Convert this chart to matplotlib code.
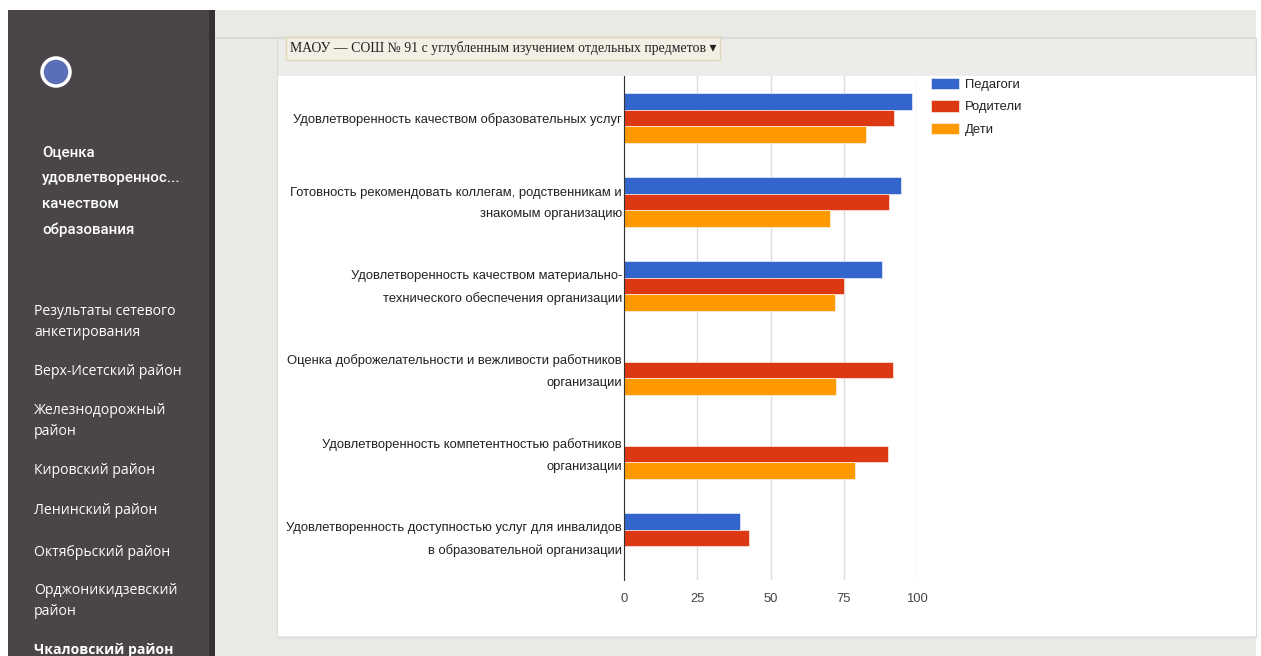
import numpy as np
import matplotlib.pyplot as plt
import matplotlib.transforms as mtransforms
from matplotlib.patches import Rectangle, Ellipse

# data
categories = [
    "Удовлетворенность качеством образовательных услуг",
    "Готовность рекомендовать коллегам, родственникам и\nзнакомым организацию",
    "Удовлетворенность качеством материально-\nтехнического обеспечения организации",
    "Оценка доброжелательности и вежливости работников\nорганизации",
    "Удовлетворенность компетентностью работников\nорганизации",
    "Удовлетворенность доступностью услуг для инвалидов\nв образовательной организации",
]
series_names = ["Педагоги", "Родители", "Дети"]
pedagogi = [98.4, 94.7, 87.9, np.nan, np.nan, 39.6]
roditeli = [92.0, 90.3, 75.2, 91.7, 90.2, 42.5]
deti = [82.5, 70.2, 72.0, 72.5, 78.8, np.nan]
xticks = [0, 25, 50, 75, 100]

title_lines = ["Оценка", "удовлетвореннос...", "качеством", "образования"]
title_y = [152, 178, 204, 230]
menu_items = [
    "Результаты сетевого\nанкетирования",
    "Верх-Исетский район",
    "Железнодорожный\nрайон",
    "Кировский район",
    "Ленинский район",
    "Октябрьский район",
    "Орджоникидзевский\nрайон",
    "Чкаловский район",
]
menu_y = [322, 372, 421, 471, 511, 552, 601, 650]
school = "МАОУ — СОШ № 91 с углубленным изучением отдельных предметов ▾"

W, H = 1261, 656
fig = plt.figure(figsize=(W / 100, H / 100), dpi=100)
fig.patch.set_facecolor("white")


def fx(x):
    return x / W


def fy(y):
    return 1 - y / H


def box(x0, y0, x1, y1, **kw):
    fig.patches.append(Rectangle((fx(x0), fy(y1)), fx(x1 - x0), (y1 - y0) / H,
                                 transform=fig.transFigure, **kw))


# page background
box(215, 10, 1256, 656, facecolor="#e9e9e5", edgecolor="none")
box(215, 37, 1256, 39, facecolor="#d9d9d5", edgecolor="none")
box(277, 38, 1256, 637, facecolor="#ecece9", edgecolor="#dcdcd8", linewidth=1)
box(278, 76, 1256, 636, facecolor="white", edgecolor="none")

# sidebar
box(8, 10, 209, 656, facecolor="#4a4548", edgecolor="none")
box(209, 10, 215, 656, facecolor="#353033", edgecolor="none")
fig.patches.append(Ellipse((fx(56), fy(72)), 28 / W, 28 / H, transform=fig.transFigure,
                           facecolor="#5a6fb8", edgecolor="white", linewidth=2.5))
for line, y in zip(title_lines, title_y):
    fig.text(fx(42), fy(y), line, family="Roboto", fontweight="medium",
             fontsize=10.9, color="white", va="center", ha="left")
for item, y in zip(menu_items, menu_y):
    bold = item.startswith("Чкаловский")
    fig.text(fx(34), fy(y), item, family="Open Sans", fontsize=10.1,
             color="white", va="center", ha="left", linespacing=1.5,
             fontweight="bold" if bold else "normal")

# dropdown
box(286, 37, 720, 60, facecolor="#f2efe4", edgecolor="#e0d6b8", linewidth=1)
fig.text(fx(290), fy(48), school, family=["Liberation Serif", "DejaVu Sans"],
         fontsize=9.9, color="#222222", va="center", ha="left")

# chart
ax = fig.add_axes([fx(624), fy(580), fx(917 - 624), (580 - 76) / H])
ax.set_zorder(5)
ax.set_facecolor("none")
y = np.arange(len(categories))
h = 0.2
colors = ["#3366cc", "#dc3912", "#ff9900"]
for i, (vals, name) in enumerate(zip([pedagogi, roditeli, deti], series_names)):
    ax.barh(y + (i - 1) * h, vals, height=h, color=colors[i], label=name,
            edgecolor="white", linewidth=0.4, zorder=3)

ax.set_xlim(0, 100)
ax.set_ylim(len(categories) - 0.5, -0.5)
ax.set_xticks(xticks)
ax.set_xticklabels([str(t) for t in xticks])
ax.set_yticks(y)
ax.set_yticklabels(categories, linespacing=2.05)
ax.tick_params(axis="both", length=0, colors="#444444", labelsize=9.4)
ax.tick_params(axis="y", pad=1.5, labelcolor="#222222")
ax.tick_params(axis="x", pad=9)
for lab in ax.get_xticklabels() + ax.get_yticklabels():
    lab.set_family("Liberation Sans")
# nudge the two-line labels down a little, like the page does
shift = mtransforms.ScaledTranslation(0, -1.5 / 100, fig.dpi_scale_trans)
for lab in ax.get_yticklabels():
    if "\n" in lab.get_text():
        lab.set_va("center")
        lab.set_transform(lab.get_transform() + shift)
ax.xaxis.grid(True, color="#dddddd", linewidth=1, zorder=0)
ax.set_axisbelow(True)
for s in ["top", "right", "bottom"]:
    ax.spines[s].set_visible(False)
ax.spines["left"].set_color("#333333")
ax.spines["left"].set_zorder(4)

leg = fig.legend(*ax.get_legend_handles_labels(), loc="upper left",
                 bbox_to_anchor=(fx(928), fy(75)), frameon=False,
                 prop={"family": "Liberation Sans", "size": 9.4},
                 handlelength=2.2, handleheight=1.0, labelspacing=0.7,
                 handletextpad=0.4, borderaxespad=0, borderpad=0.2)
leg.set_zorder(6)
for t in leg.get_texts():
    t.set_color("#222222")

fig.savefig("out.png", dpi=100)
